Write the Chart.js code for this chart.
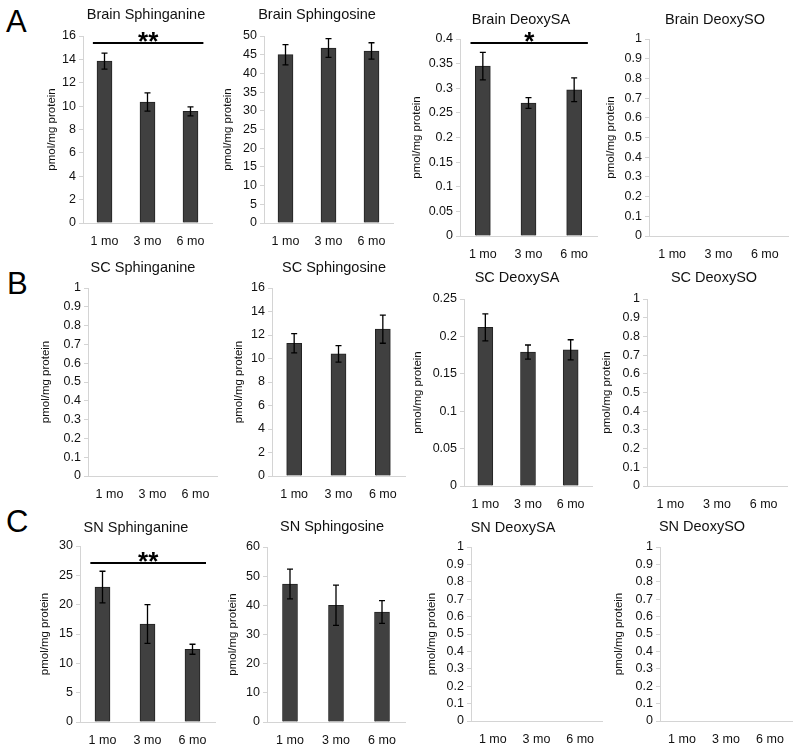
<!DOCTYPE html>
<html>
<head>
<meta charset="utf-8">
<script src="https://cdn.jsdelivr.net/npm/chart.js@4.4.1/dist/chart.umd.min.js"></script>
<style>
  body { margin: 0; background: #fff; }
  #wrap { position: relative; width: 800px; height: 750px; overflow: hidden; }
  canvas { position: absolute; }
  .letter { position: absolute; font-family: "Liberation Sans", Arial, sans-serif; font-size: 31px; color: #000; line-height: 1; }
</style>
</head>
<body>
<div id="wrap">
  <div class="letter" style="left:6px;top:6px;">A</div>
  <div class="letter" style="left:7px;top:268px;">B</div>
  <div class="letter" style="left:6px;top:506px;">C</div>
</div>
<script>
// categories
const months = ['1 mo', '3 mo', '6 mo'];

// panel titles (row by row)
const titles = [
    'Brain Sphinganine', 'Brain Sphingosine', 'Brain DeoxySA', 'Brain DeoxySO',
    'SC Sphinganine', 'SC Sphingosine', 'SC DeoxySA', 'SC DeoxySO',
    'SN Sphinganine', 'SN Sphingosine', 'SN DeoxySA', 'SN DeoxySO'
];

// means (pmol/mg protein), empty panels have no data
const brainSphinganine = [13.85, 10.35, 9.55];
const brainSphingosine = [45.0, 46.8, 46.0];
const brainDeoxySA = [0.345, 0.270, 0.297];
const brainDeoxySO = [null, null, null];
const scSphinganine = [null, null, null];
const scSphingosine = [11.3, 10.4, 12.5];
const scDeoxySA = [0.212, 0.179, 0.182];
const scDeoxySO = [null, null, null];
const snSphinganine = [23.0, 16.7, 12.4];
const snSphingosine = [47.3, 40.0, 37.7];
const snDeoxySA = [null, null, null];
const snDeoxySO = [null, null, null];

// error bars (+/-)
const brainSphinganineErr = [0.68, 0.78, 0.38];
const brainSphingosineErr = [2.7, 2.5, 2.2];
const brainDeoxySAErr = [0.028, 0.011, 0.024];
const scSphingosineErr = [0.82, 0.7, 1.2];
const scDeoxySAErr = [0.018, 0.0095, 0.0135];
const snSphinganineErr = [2.7, 3.3, 0.85];
const snSphingosineErr = [5.1, 6.9, 3.9];

// y axis max and tick step for each panel
const yMax = [16, 50, 0.4, 1, 1, 16, 0.25, 1, 30, 60, 1, 1];
const yStep = [2, 5, 0.05, 0.1, 0.1, 2, 0.05, 0.1, 5, 10, 0.1, 0.1];

// significance bars: panel index, y value of line, label
const sigPanels = [0, 2, 8];
const sigLevel = [15.4, 0.392, 27.1];
const sigText = ['**', '*', '**'];

const values = [brainSphinganine, brainSphingosine, brainDeoxySA, brainDeoxySO,
    scSphinganine, scSphingosine, scDeoxySA, scDeoxySO,
    snSphinganine, snSphingosine, snDeoxySA, snDeoxySO];
const errors = [brainSphinganineErr, brainSphingosineErr, brainDeoxySAErr, null,
    null, scSphingosineErr, scDeoxySAErr, null,
    snSphinganineErr, snSphingosineErr, null, null];

// layout in page pixels: plot box, title centre, y title centre
const layout = [
    {l: 83, r: 212, t: 36, b: 223, tx: 146, ty: 15, yx: 52},
    {l: 264, r: 393, t: 36, b: 223, tx: 317, ty: 15, yx: 228},
    {l: 460, r: 597, t: 39, b: 236, tx: 521, ty: 20, yx: 417},
    {l: 649, r: 788, t: 39, b: 236, tx: 715, ty: 20, yx: 611},
    {l: 88, r: 217, t: 288, b: 476, tx: 143, ty: 268, yx: 46},
    {l: 272, r: 405, t: 288, b: 476, tx: 334, ty: 268, yx: 239},
    {l: 464, r: 592, t: 299, b: 486, tx: 517, ty: 278, yx: 418},
    {l: 647, r: 787, t: 299, b: 486, tx: 714, ty: 278, yx: 607},
    {l: 80, r: 215, t: 546, b: 722, tx: 136, ty: 528, yx: 45},
    {l: 267, r: 405, t: 547, b: 722, tx: 332, ty: 527, yx: 233},
    {l: 471, r: 602, t: 547, b: 721, tx: 513, ty: 528, yx: 432},
    {l: 660, r: 792, t: 547, b: 721, tx: 702, ty: 527, yx: 619}
];

const FONT = '"Liberation Sans", Arial, sans-serif';
const Y_TITLE_SIZE = 11.5;
const X_AXIS_H = 30;

const panelTitle = {
    id: 'panelTitle',
    afterDraw(chart, args, opts) {
        const ctx = chart.ctx;
        ctx.save();
        ctx.font = '14.5px ' + FONT;
        ctx.fillStyle = '#111';
        ctx.textAlign = 'center';
        ctx.textBaseline = 'middle';
        ctx.fillText(opts.text, opts.x, opts.y);
        ctx.restore();
    }
};

const errorBars = {
    id: 'errorBars',
    afterDatasetsDraw(chart, args, opts) {
        if (!opts.err) return;
        const ctx = chart.ctx;
        const meta = chart.getDatasetMeta(0);
        const y = chart.scales.y;
        const vals = chart.data.datasets[0].data;
        ctx.save();
        ctx.strokeStyle = '#000';
        ctx.lineWidth = 1.3;
        meta.data.forEach((bar, i) => {
            const x = bar.x;
            const top = y.getPixelForValue(vals[i] + opts.err[i]);
            const bot = y.getPixelForValue(vals[i] - opts.err[i]);
            ctx.beginPath();
            ctx.moveTo(x, top); ctx.lineTo(x, bot);
            ctx.moveTo(x - 3, top); ctx.lineTo(x + 3, top);
            ctx.moveTo(x - 3, bot); ctx.lineTo(x + 3, bot);
            ctx.stroke();
        });
        ctx.restore();
    }
};

const sigBar = {
    id: 'sigBar',
    afterDatasetsDraw(chart, args, opts) {
        if (opts.level == null) return;
        const ctx = chart.ctx;
        const xs = chart.scales.x;
        const step = xs.getPixelForValue(1) - xs.getPixelForValue(0);
        const x0 = xs.getPixelForValue(0) - step * 0.27;
        const x1 = xs.getPixelForValue(2) + step * 0.3;
        const yy = chart.scales.y.getPixelForValue(opts.level);
        ctx.save();
        ctx.strokeStyle = '#000';
        ctx.lineWidth = 2;
        ctx.beginPath();
        ctx.moveTo(x0, yy); ctx.lineTo(x1, yy);
        ctx.stroke();
        ctx.font = 'bold 26px ' + FONT;
        ctx.fillStyle = '#000';
        ctx.textAlign = 'center';
        ctx.textBaseline = 'alphabetic';
        ctx.fillText(opts.text, (x0 + x1) / 2, yy + 7);
        ctx.restore();
    }
};

const wrap = document.getElementById('wrap');

layout.forEach((g, i) => {
    const left = Math.round(g.yx - Y_TITLE_SIZE * 0.6);
    const top = g.ty - 14;
    const w = g.r + 6 - left;
    const h = g.b + X_AXIS_H - top;
    const cv = document.createElement('canvas');
    cv.style.left = left + 'px';
    cv.style.top = top + 'px';
    cv.style.width = w + 'px';
    cv.style.height = h + 'px';
    cv.width = w; cv.height = h;
    wrap.appendChild(cv);

    const s = sigPanels.indexOf(i);

    new Chart(cv, {
        type: 'bar',
        data: {
            labels: months,
            datasets: [{
                data: values[i],
                backgroundColor: '#404040',
                borderColor: '#222',
                borderWidth: 1,
                barThickness: 15
            }]
        },
        options: {
            responsive: false,
            animation: false,
            layout: { padding: { top: g.t - top, right: 6, bottom: 0, left: 0 } },
            plugins: {
                legend: { display: false },
                tooltip: { enabled: false },
                panelTitle: { text: titles[i], x: g.tx - left, y: g.ty - top },
                errorBars: { err: errors[i] },
                sigBar: s >= 0 ? { level: sigLevel[s], text: sigText[s] } : {}
            },
            scales: {
                x: {
                    grid: { display: false, drawTicks: false },
                    border: { color: '#d4d4d4', width: 1 },
                    ticks: { color: '#111', padding: 11, font: { family: FONT, size: 12.5 } },
                    afterFit: sc => { sc.height = X_AXIS_H; }
                },
                y: {
                    min: 0,
                    max: yMax[i],
                    grid: { drawOnChartArea: false, drawTicks: true, tickLength: 4, color: '#d4d4d4' },
                    border: { color: '#d4d4d4', width: 1 },
                    ticks: {
                        stepSize: yStep[i],
                        autoSkip: false,
                        color: '#111',
                        padding: 3,
                        font: { family: FONT, size: 12.5 },
                        callback: v => String(+v.toFixed(3))
                    },
                    title: {
                        display: true,
                        text: 'pmol/mg protein',
                        color: '#111',
                        padding: 0,
                        font: { family: FONT, size: Y_TITLE_SIZE }
                    },
                    afterFit: sc => { sc.width = g.l - left; }
                }
            }
        },
        plugins: [panelTitle, errorBars, sigBar]
    });
});
</script>
</body>
</html>
